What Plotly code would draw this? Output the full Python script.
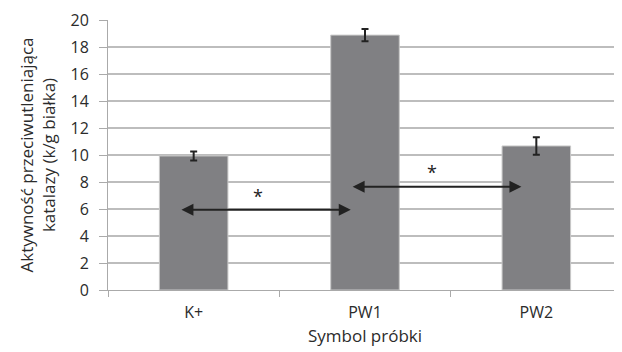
import plotly.graph_objects as go

categories = ["K+", "PW1", "PW2"]
values = [9.93, 18.88, 10.67]
errors = [0.33, 0.46, 0.65]
y_ticks = list(range(0, 21, 2))

# significance arrows: (start x index, end x index, y), star positions
arrows = [(-0.08, 0.917, 5.95), (0.919, 1.913, 7.65)]
stars = [(0.378, 7.0), (1.39, 8.75)]

font = "Open Sans"

fig = go.Figure()
fig.add_trace(go.Bar(
    x=categories, y=values,
    width=0.4,
    marker=dict(color="#808083", line=dict(color="#c8c8c8", width=1)),
    error_y=dict(type="data", array=errors, visible=True,
                 color="#222222", thickness=2, width=3.5),
))

for x0, x1, y in arrows:
    fig.add_annotation(x=x1, y=y, ax=x0, ay=y, xref="x", yref="y",
                       axref="x", ayref="y", text="", showarrow=True,
                       arrowhead=2, startarrowhead=2, arrowside="end+start",
                       arrowsize=1.2, startarrowsize=1.2,
                       arrowwidth=2, arrowcolor="#222222")
for x, y in stars:
    fig.add_annotation(x=x, y=y, xref="x", yref="y", text="*",
                       showarrow=False, font=dict(family=font, size=18, color="#222222"))

fig.update_layout(
    width=614, height=344,
    margin=dict(l=100, r=0, t=12, b=62),
    paper_bgcolor="white", plot_bgcolor="white",
    showlegend=False,
    font=dict(family=font, color="#2b2b2b"),
    xaxis=dict(
        type="category", range=[-0.5, 2.5], automargin=False,
        tickson="boundaries", ticks="outside", ticklen=6, tickcolor="#aaaaaa",
        ticklabelstandoff=8,
        showline=True, linecolor="#aaaaaa", linewidth=1,
        showgrid=False,
        tickfont=dict(size=16, family=font, color="#2b2b2b"),
        title=dict(text="Symbol próbki", font=dict(size=17, family=font, color="#2b2b2b"), standoff=7),
    ),
    yaxis=dict(
        range=[0, 20], tickvals=y_ticks, automargin=False,
        ticks="outside", ticklen=8, tickcolor="#aaaaaa",
        ticklabelstandoff=7,
        showline=True, linecolor="#aaaaaa", linewidth=1,
        showgrid=True, gridcolor="#bdbdbd", gridwidth=1.5,
        zeroline=False,
        tickfont=dict(size=16, family=font, color="#2b2b2b"),
        title=dict(text="Aktywność przeciwutleniająca<br>katalazy (k/g białka)",
                   font=dict(size=17, family=font, color="#2b2b2b"), standoff=10),
    ),
)

fig.write_html("out.html")
